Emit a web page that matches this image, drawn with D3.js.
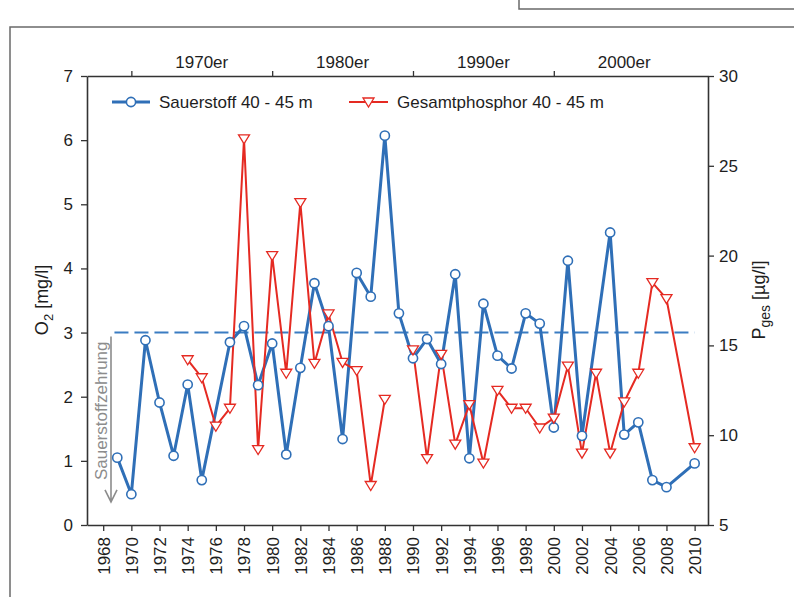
<!DOCTYPE html>
<html>
<head>
<meta charset="utf-8">
<script src="https://cdn.jsdelivr.net/npm/d3@7"></script>
<style>
  html, body { margin: 0; padding: 0; background: #fff; }
  svg { display: block; font-family: "Liberation Sans", Arial, sans-serif; }
</style>
</head>
<body>
<div class="container"></div>
<script>
// data
const o2Years = [1969,1970,1971,1972,1973,1974,1975,1977,1978,1979,1980,1981,1982,1983,1984,1985,1986,1987,1988,1989,
  1990,1991,1992,1993,1994,1995,1996,1997,1998,1999,2000,2001,2002,2004,2005,2006,2007,2008,2010];
const o2Values = [1.05,0.48,2.88,1.91,1.08,2.19,0.70,2.85,3.10,2.18,2.83,1.10,2.45,3.77,3.10,1.34,3.93,3.56,6.07,3.30,
  2.60,2.90,2.51,3.91,1.04,3.45,2.64,2.44,3.30,3.14,1.52,4.12,1.39,4.56,1.41,1.60,0.70,0.59,0.96];

// null = no value, line is broken there
const pYears = [1974,1975,1976,1977,1978,1979,1980,1981,1982,1983,1984,1985,1986,1987,1988,1989,
  1990,1991,1992,1993,1994,1995,1996,1997,1998,1999,2000,2001,2002,2003,2004,2005,2006,2007,2008,2010];
const pValues = [14.2,13.2,10.5,11.5,26.5,9.2,20.0,13.45,22.95,14.0,16.75,14.05,13.6,7.2,12.0,null,
  14.75,8.7,14.5,9.5,11.7,8.45,12.5,11.5,11.5,10.4,10.95,13.85,9.0,13.45,9.0,11.85,13.45,18.5,17.6,9.3];

const o2Ticks = [0,1,2,3,4,5,6,7];
const pTicks = [5,10,15,20,25,30];
const yearTicks = [1968,1970,1972,1974,1976,1978,1980,1982,1984,1986,1988,1990,1992,1994,1996,1998,2000,2002,2004,2006,2008,2010];
const decadeBounds = [1970,1980,1990,2000];
const decadeLabels = ['1970er','1980er','1990er','2000er'];
const decadeCenters = [1975,1985,1995,2005];
const o2Threshold = 3;

const W = 794, H = 597;
const blue = '#2f6fb7', red = '#e52a22', grey = '#8c8c8c', ink = '#1e1e1e';

const svg = d3.select('.container')
  .append('svg')
  .attr('width', W)
  .attr('height', H);

svg.append('rect').attr('width', W).attr('height', H).attr('fill', '#fff');

// scales
const x = d3.scaleLinear().domain([1966.85, 2010.95]).range([87, 708]);
const yL = d3.scaleLinear().domain([0, 7]).range([525, 76]);
const yR = d3.scaleLinear().domain([5, 30]).range([525, 76]);

// outer frame of the figure
svg.append('path')
  .attr('d', 'M10,' + H + 'V27H' + W + 'M519,0V9H' + W)
  .attr('fill', 'none')
  .attr('stroke', '#6a6a6a')
  .attr('stroke-width', 1.5);

function styleAxis(g) {
  g.selectAll('.domain').attr('stroke', '#333').attr('stroke-width', 1.6);
  g.selectAll('.tick line').attr('stroke', '#333').attr('stroke-width', 1.3);
  g.selectAll('.tick text').attr('fill', ink).style('font-size', '17px');
}

// left axis
svg.append('g')
  .attr('transform', 'translate(87,0)')
  .call(d3.axisLeft(yL).tickValues(o2Ticks).tickFormat(d3.format('d')).tickSize(6).tickSizeOuter(0).tickPadding(8))
  .call(styleAxis);

// right axis
svg.append('g')
  .attr('transform', 'translate(708,0)')
  .call(d3.axisRight(yR).tickValues(pTicks).tickFormat(d3.format('d')).tickSize(6).tickSizeOuter(0).tickPadding(5))
  .call(styleAxis);

// bottom axis, years rotated
const gx = svg.append('g')
  .attr('transform', 'translate(0,525)')
  .call(d3.axisBottom(x).tickValues(yearTicks).tickFormat(d3.format('d')).tickSize(6).tickSizeOuter(0))
  .call(styleAxis);
gx.selectAll('.tick text')
  .attr('transform', 'rotate(-90)')
  .attr('text-anchor', 'end')
  .attr('x', -12)
  .attr('y', 0)
  .attr('dy', '0.35em');

// top axis with decade marks
svg.append('g')
  .attr('transform', 'translate(0,76)')
  .call(d3.axisTop(x).tickValues(decadeBounds).tickFormat('').tickSize(5).tickSizeOuter(0))
  .call(styleAxis);

svg.append('g').selectAll('text')
  .data(decadeLabels)
  .join('text')
  .attr('x', (d, i) => x(decadeCenters[i]))
  .attr('y', 68)
  .attr('text-anchor', 'middle')
  .attr('fill', ink)
  .style('font-size', '17px')
  .text(d => d);

// axis titles
const lt = svg.append('text')
  .attr('transform', 'translate(48,300) rotate(-90)')
  .attr('text-anchor', 'middle')
  .attr('fill', ink)
  .style('font-size', '18px');
lt.append('tspan').text('O');
lt.append('tspan').attr('dy', 5).style('font-size', '13px').text('2');
lt.append('tspan').attr('dy', -5).text(' [mg/l]');

const rt = svg.append('text')
  .attr('transform', 'translate(765,300) rotate(-90)')
  .attr('text-anchor', 'middle')
  .attr('fill', ink)
  .style('font-size', '18px');
rt.append('tspan').text('P');
rt.append('tspan').attr('dy', 5).style('font-size', '14px').text('ges');
rt.append('tspan').attr('dy', -5).text(' [µg/l]');

// threshold line at 3 mg/l
svg.append('line')
  .attr('x1', x(1968.8)).attr('x2', x(2010))
  .attr('y1', yL(o2Threshold)).attr('y2', yL(o2Threshold))
  .attr('stroke', '#3a7cc2')
  .attr('stroke-width', 2)
  .attr('stroke-dasharray', '14,6');

// "Sauerstoffzehrung" arrow
const arrowTop = yL(2.94), arrowBot = yL(0.36), ax = 111;
svg.append('path')
  .attr('d', `M${ax},${arrowTop}V${arrowBot}M${ax - 6},${arrowBot - 12}L${ax},${arrowBot}L${ax + 6},${arrowBot - 12}`)
  .attr('fill', 'none')
  .attr('stroke', grey)
  .attr('stroke-width', 1.6);
svg.append('text')
  .attr('transform', `translate(107,${yL(0.7)}) rotate(-90)`)
  .attr('fill', grey)
  .style('font-size', '17px')
  .text('Sauerstoffzehrung');

// series
const o2 = o2Years.map((yr, i) => ({ yr, v: o2Values[i] }));
const ph = pYears.map((yr, i) => ({ yr, v: pValues[i] }));

const lineO2 = d3.line().x(d => x(d.yr)).y(d => yL(d.v));
const lineP = d3.line().defined(d => d.v !== null).x(d => x(d.yr)).y(d => yR(d.v));

svg.append('path')
  .attr('d', lineO2(o2))
  .attr('fill', 'none')
  .attr('stroke', blue)
  .attr('stroke-width', 3)
  .attr('stroke-linejoin', 'round');

svg.append('path')
  .attr('d', lineP(ph))
  .attr('fill', 'none')
  .attr('stroke', red)
  .attr('stroke-width', 2)
  .attr('stroke-linejoin', 'round');

const tri = 'M-5.5,-4L5.5,-4L0,5Z';

svg.append('g').selectAll('circle')
  .data(o2)
  .join('circle')
  .attr('cx', d => x(d.yr))
  .attr('cy', d => yL(d.v))
  .attr('r', 4.6)
  .attr('fill', '#fff')
  .attr('stroke', blue)
  .attr('stroke-width', 1.6);

svg.append('g').selectAll('path')
  .data(ph.filter(d => d.v !== null))
  .join('path')
  .attr('transform', d => `translate(${x(d.yr)},${yR(d.v)})`)
  .attr('d', tri)
  .attr('fill', '#fff')
  .attr('stroke', red)
  .attr('stroke-width', 1.3);

// legend
const leg = svg.append('g').attr('transform', 'translate(0,102)');
leg.append('line').attr('x1', 112).attr('x2', 150).attr('stroke', blue).attr('stroke-width', 3);
leg.append('circle').attr('cx', 131).attr('r', 4.6).attr('fill', '#fff').attr('stroke', blue).attr('stroke-width', 1.6);
leg.append('text').attr('x', 159).attr('dy', '0.36em').attr('fill', ink).style('font-size', '17px').text('Sauerstoff 40 - 45 m');
leg.append('line').attr('x1', 349).attr('x2', 388).attr('stroke', red).attr('stroke-width', 2);
leg.append('path').attr('transform', 'translate(368.5,0)').attr('d', tri).attr('fill', '#fff').attr('stroke', red).attr('stroke-width', 1.3);
leg.append('text').attr('x', 397).attr('dy', '0.36em').attr('fill', ink).style('font-size', '17px').text('Gesamtphosphor 40 - 45 m');
</script>
</body>
</html>
